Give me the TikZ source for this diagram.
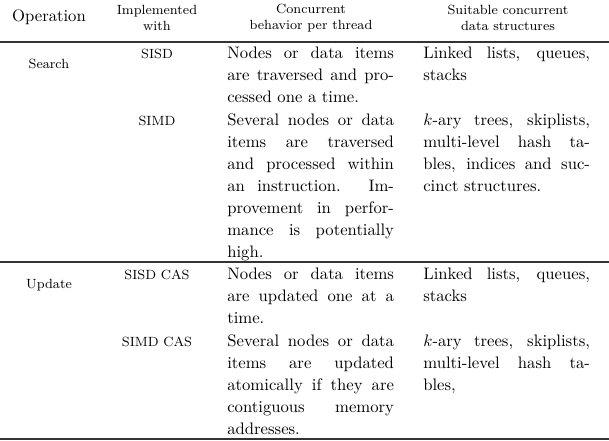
\documentclass[tikz,border=0pt]{standalone}
\begin{document}
\begin{tikzpicture}[x=0.6pt,y=-0.6pt,
  para/.style={anchor=base west,inner sep=0pt,text width=100pt,align=justify,font=\fontsize{10}{13.2}\selectfont},
  small/.style={inner sep=0pt,font=\footnotesize,align=center},
  rule/.style={line width=0.8pt,draw=black!80}]
\useasboundingbox (0,0) rectangle (609,440);
\node[inner sep=0pt,font=\fontsize{10}{12}\selectfont] (hop) at (49,17) {Operation};
\node[small] (himp) at (157,18) {Implemented\\with};
\node[small] (hcon) at (311,18) {Concurrent\\behavior per thread};
\node[small] (hsui) at (508,18) {Suitable concurrent\\data structures};
\draw[rule] (0,42) -- (609,42);
\draw[rule] (0,262) -- (609,262);
\draw[rule] (0,439) -- (609,439);
\node[small] (search) at (49,64) {Search};
\node[small] (update) at (49,285) {Update};
\node[small] (sisd) at (157,54) {SISD};
\node[small] (simd) at (157,121) {SIMD};
\node[small] (sisdc) at (157,275) {SISD CAS};
\node[small] (simdc) at (157,342) {SIMD CAS};
\node[para] (c1) at (227,58) {Nodes or data items\linebreak are traversed and pro-\linebreak cessed one a time.};
\node[para] (c2) at (227,125) {Several nodes or data\linebreak items are traversed\linebreak and processed within\linebreak an instruction. Im-\linebreak provement in perfor-\linebreak mance is potentially\linebreak high.};
\node[para] (c3) at (227,279) {Nodes or data items\linebreak are updated one at a\linebreak time.};
\node[para] (c4) at (227,346) {Several nodes or data\linebreak items are updated\linebreak atomically if they are\linebreak contiguous memory\linebreak addresses.};
\node[para] (s1) at (423,58) {Linked lists, queues,\linebreak stacks};
\node[para] (s2) at (423,125) {$k$-ary trees, skiplists,\linebreak multi-level hash ta-\linebreak bles, indices and suc-\linebreak cinct structures.};
\node[para] (s3) at (423,279) {Linked lists, queues,\linebreak stacks};
\node[para] (s4) at (423,346) {$k$-ary trees, skiplists,\linebreak multi-level hash ta-\linebreak bles,};
\end{tikzpicture}
\end{document}
